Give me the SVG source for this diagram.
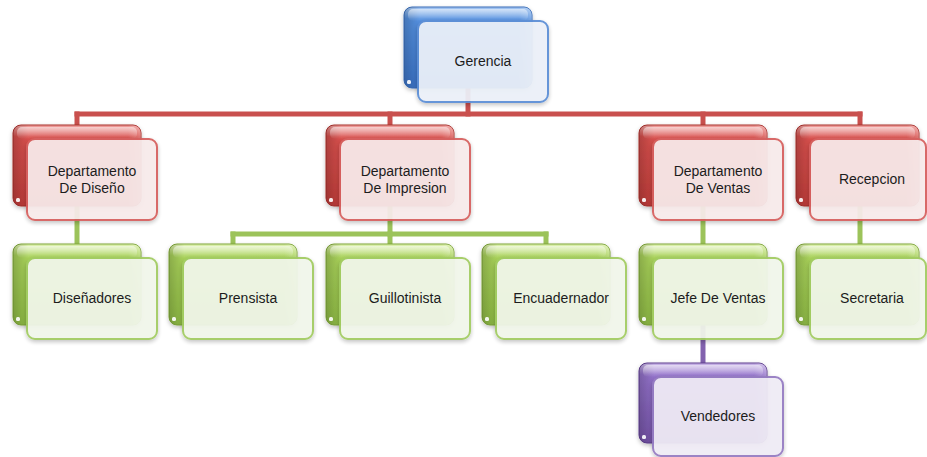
<svg xmlns="http://www.w3.org/2000/svg" width="927" height="457" viewBox="0 0 927 457">
<style>
  .lbl{font-family:"Liberation Sans",Arial,sans-serif;font-size:14px;fill:#1c1c1c;text-anchor:middle}
  .conn line{stroke-width:5;stroke-linecap:square}
  .red line{stroke:#c9504e}
  .grn line{stroke:#9cc35a}
  .pur line{stroke:#8262ae}
  .back{stroke-width:1}
  .hl{fill:url(#hl)}
  .dot{fill:#ffffff;opacity:.9}
  .front{stroke-width:2;opacity:.94}
  .fb{fill:#ebf0f8;stroke:#5d8fd6}
  .fr{fill:#f7eaea;stroke:#d6615e}
  .fg{fill:#f1f6ea;stroke:#a2cc62}
  .fp{fill:#efebf5;stroke:#957bc2}
</style>
<defs>
  <linearGradient id="gb" x1="0" y1="0" x2="0" y2="1">
    <stop offset="0" stop-color="#a9c9f2"/><stop offset=".14" stop-color="#5591e0"/><stop offset="1" stop-color="#3b73c7"/>
  </linearGradient>
  <linearGradient id="gr" x1="0" y1="0" x2="0" y2="1">
    <stop offset="0" stop-color="#f0a3a1"/><stop offset=".14" stop-color="#d9514e"/><stop offset="1" stop-color="#c03d3a"/>
  </linearGradient>
  <linearGradient id="gg" x1="0" y1="0" x2="0" y2="1">
    <stop offset="0" stop-color="#e0f2b4"/><stop offset=".14" stop-color="#aad35b"/><stop offset="1" stop-color="#8fbb45"/>
  </linearGradient>
  <linearGradient id="gp" x1="0" y1="0" x2="0" y2="1">
    <stop offset="0" stop-color="#cbb8e8"/><stop offset=".14" stop-color="#9473cb"/><stop offset="1" stop-color="#7553a8"/>
  </linearGradient>
  <linearGradient id="hl" x1="0" y1="0" x2="0" y2="1">
    <stop offset="0" stop-color="#ffffff" stop-opacity=".55"/><stop offset="1" stop-color="#ffffff" stop-opacity="0"/>
  </linearGradient>
  <linearGradient id="side" x1="0" y1="0" x2="1" y2="0">
    <stop offset="0" stop-color="#000000" stop-opacity=".18"/><stop offset=".12" stop-color="#000000" stop-opacity="0"/>
    <stop offset=".9" stop-color="#ffffff" stop-opacity="0"/><stop offset="1" stop-color="#ffffff" stop-opacity=".25"/>
  </linearGradient>
  <filter id="sh" x="-10%" y="-10%" width="130%" height="130%">
    <feDropShadow dx="0" dy="2" stdDeviation="2" flood-color="#000" flood-opacity=".25"/>
  </filter>
</defs>

<g id="connectors" class="conn">
  <g class="red">
    <line x1="468" y1="88" x2="468" y2="114"/>
    <line x1="77" y1="114" x2="860" y2="114"/>
    <line x1="77" y1="114" x2="77" y2="125"/>
    <line x1="390" y1="114" x2="390" y2="125"/>
    <line x1="703" y1="114" x2="703" y2="125"/>
    <line x1="860" y1="114" x2="860" y2="125"/>
  </g>
  <g class="grn">
    <line x1="77" y1="206" x2="77" y2="244"/>
    <line x1="390" y1="206" x2="390" y2="234"/>
    <line x1="233" y1="234" x2="546" y2="234"/>
    <line x1="233" y1="234" x2="233" y2="244"/>
    <line x1="390" y1="234" x2="390" y2="244"/>
    <line x1="546" y1="234" x2="546" y2="244"/>
    <line x1="703" y1="206" x2="703" y2="244"/>
    <line x1="860" y1="206" x2="860" y2="244"/>
  </g>
  <g class="pur">
    <line x1="703" y1="325" x2="703" y2="363"/>
  </g>
</g>

<g id="n-gerencia">
  <rect x="404" y="7" width="128" height="81" rx="8" fill="url(#gb)" stroke="#3a6db8" class="back" filter="url(#sh)"/>
  <rect x="404" y="7" width="128" height="81" rx="8" fill="url(#side)"/>
  <rect x="408" y="9" width="120" height="12" rx="5" class="hl"/>
  <rect x="407" y="80" width="4" height="4" rx="1.5" class="dot"/>
  <rect x="418" y="21" width="130" height="81" rx="8" class="front fb" filter="url(#sh)"/>
  <text x="483" y="66" class="lbl">Gerencia</text>
</g>

<g id="n-diseno">
  <rect x="13" y="125" width="128" height="81" rx="8" fill="url(#gr)" stroke="#a8302d" class="back" filter="url(#sh)"/>
  <rect x="13" y="125" width="128" height="81" rx="8" fill="url(#side)"/>
  <rect x="17" y="127" width="120" height="12" rx="5" class="hl"/>
  <rect x="16" y="198" width="4" height="4" rx="1.5" class="dot"/>
  <rect x="27" y="139" width="130" height="81" rx="8" class="front fr" filter="url(#sh)"/>
  <text x="92" y="176" class="lbl">Departamento</text>
  <text x="92" y="193" class="lbl">De Diseño</text>
</g>

<g id="n-impresion">
  <rect x="326" y="125" width="128" height="81" rx="8" fill="url(#gr)" stroke="#a8302d" class="back" filter="url(#sh)"/>
  <rect x="326" y="125" width="128" height="81" rx="8" fill="url(#side)"/>
  <rect x="330" y="127" width="120" height="12" rx="5" class="hl"/>
  <rect x="329" y="198" width="4" height="4" rx="1.5" class="dot"/>
  <rect x="340" y="139" width="130" height="81" rx="8" class="front fr" filter="url(#sh)"/>
  <text x="405" y="176" class="lbl">Departamento</text>
  <text x="405" y="193" class="lbl">De Impresion</text>
</g>

<g id="n-ventas">
  <rect x="639" y="125" width="128" height="81" rx="8" fill="url(#gr)" stroke="#a8302d" class="back" filter="url(#sh)"/>
  <rect x="639" y="125" width="128" height="81" rx="8" fill="url(#side)"/>
  <rect x="643" y="127" width="120" height="12" rx="5" class="hl"/>
  <rect x="642" y="198" width="4" height="4" rx="1.5" class="dot"/>
  <rect x="653" y="139" width="130" height="81" rx="8" class="front fr" filter="url(#sh)"/>
  <text x="718" y="176" class="lbl">Departamento</text>
  <text x="718" y="193" class="lbl">De Ventas</text>
</g>

<g id="n-recepcion">
  <rect x="796" y="125" width="123" height="81" rx="8" fill="url(#gr)" stroke="#a8302d" class="back" filter="url(#sh)"/>
  <rect x="796" y="125" width="123" height="81" rx="8" fill="url(#side)"/>
  <rect x="800" y="127" width="115" height="12" rx="5" class="hl"/>
  <rect x="799" y="198" width="4" height="4" rx="1.5" class="dot"/>
  <rect x="810" y="139" width="116" height="81" rx="8" class="front fr" filter="url(#sh)"/>
  <text x="872" y="184" class="lbl">Recepcion</text>
</g>

<g id="n-disenadores">
  <rect x="13" y="244" width="128" height="81" rx="8" fill="url(#gg)" stroke="#7ea53a" class="back" filter="url(#sh)"/>
  <rect x="13" y="244" width="128" height="81" rx="8" fill="url(#side)"/>
  <rect x="17" y="246" width="120" height="12" rx="5" class="hl"/>
  <rect x="16" y="317" width="4" height="4" rx="1.5" class="dot"/>
  <rect x="27" y="258" width="130" height="81" rx="8" class="front fg" filter="url(#sh)"/>
  <text x="92" y="303" class="lbl">Diseñadores</text>
</g>

<g id="n-prensista">
  <rect x="169" y="244" width="128" height="81" rx="8" fill="url(#gg)" stroke="#7ea53a" class="back" filter="url(#sh)"/>
  <rect x="169" y="244" width="128" height="81" rx="8" fill="url(#side)"/>
  <rect x="173" y="246" width="120" height="12" rx="5" class="hl"/>
  <rect x="172" y="317" width="4" height="4" rx="1.5" class="dot"/>
  <rect x="183" y="258" width="130" height="81" rx="8" class="front fg" filter="url(#sh)"/>
  <text x="248" y="303" class="lbl">Prensista</text>
</g>

<g id="n-guillotinista">
  <rect x="326" y="244" width="128" height="81" rx="8" fill="url(#gg)" stroke="#7ea53a" class="back" filter="url(#sh)"/>
  <rect x="326" y="244" width="128" height="81" rx="8" fill="url(#side)"/>
  <rect x="330" y="246" width="120" height="12" rx="5" class="hl"/>
  <rect x="329" y="317" width="4" height="4" rx="1.5" class="dot"/>
  <rect x="340" y="258" width="130" height="81" rx="8" class="front fg" filter="url(#sh)"/>
  <text x="405" y="303" class="lbl">Guillotinista</text>
</g>

<g id="n-encuadernador">
  <rect x="482" y="244" width="128" height="81" rx="8" fill="url(#gg)" stroke="#7ea53a" class="back" filter="url(#sh)"/>
  <rect x="482" y="244" width="128" height="81" rx="8" fill="url(#side)"/>
  <rect x="486" y="246" width="120" height="12" rx="5" class="hl"/>
  <rect x="485" y="317" width="4" height="4" rx="1.5" class="dot"/>
  <rect x="496" y="258" width="130" height="81" rx="8" class="front fg" filter="url(#sh)"/>
  <text x="561" y="303" class="lbl">Encuadernador</text>
</g>

<g id="n-jefe">
  <rect x="639" y="244" width="128" height="81" rx="8" fill="url(#gg)" stroke="#7ea53a" class="back" filter="url(#sh)"/>
  <rect x="639" y="244" width="128" height="81" rx="8" fill="url(#side)"/>
  <rect x="643" y="246" width="120" height="12" rx="5" class="hl"/>
  <rect x="642" y="317" width="4" height="4" rx="1.5" class="dot"/>
  <rect x="653" y="258" width="130" height="81" rx="8" class="front fg" filter="url(#sh)"/>
  <text x="718" y="303" class="lbl">Jefe De Ventas</text>
</g>

<g id="n-secretaria">
  <rect x="796" y="244" width="123" height="81" rx="8" fill="url(#gg)" stroke="#7ea53a" class="back" filter="url(#sh)"/>
  <rect x="796" y="244" width="123" height="81" rx="8" fill="url(#side)"/>
  <rect x="800" y="246" width="115" height="12" rx="5" class="hl"/>
  <rect x="799" y="317" width="4" height="4" rx="1.5" class="dot"/>
  <rect x="810" y="258" width="116" height="81" rx="8" class="front fg" filter="url(#sh)"/>
  <text x="872" y="303" class="lbl">Secretaria</text>
</g>

<g id="n-vendedores">
  <rect x="639" y="363" width="128" height="80" rx="8" fill="url(#gp)" stroke="#5e3f8e" class="back" filter="url(#sh)"/>
  <rect x="639" y="363" width="128" height="80" rx="8" fill="url(#side)"/>
  <rect x="643" y="365" width="120" height="12" rx="5" class="hl"/>
  <rect x="642" y="435" width="4" height="4" rx="1.5" class="dot"/>
  <rect x="653" y="377" width="130" height="79" rx="8" class="front fp" filter="url(#sh)"/>
  <text x="718" y="421" class="lbl">Vendedores</text>
</g>
</svg>
